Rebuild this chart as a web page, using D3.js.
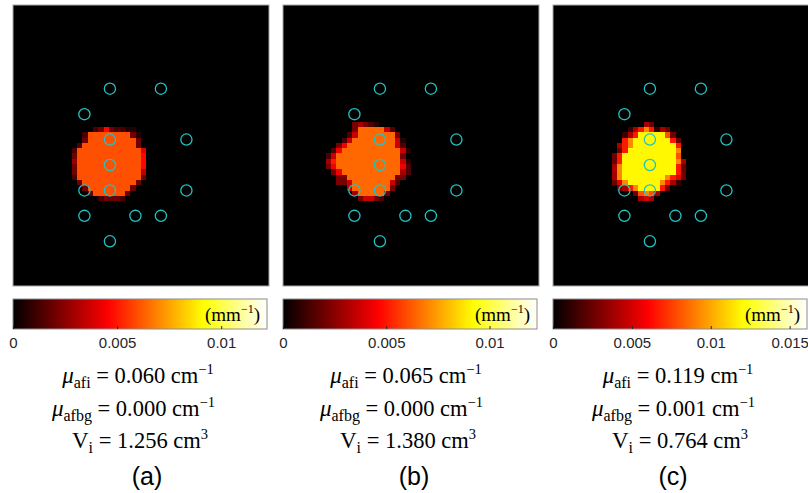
<!DOCTYPE html>
<html>
<head>
<meta charset="utf-8">
<script src="https://cdn.jsdelivr.net/npm/d3@7"></script>
<style>
  body { margin: 0; background: #fff; }
  svg { display: block; }
</style>
</head>
<body>
<svg width="808" height="493"></svg>
<script>
var svg = d3.select("svg");

// captions and the numbers printed under each map
var panelLabels = ["(a)", "(b)", "(c)"];
var muAfi = [0.060, 0.065, 0.119];   // cm^-1
var muAfbg = [0.000, 0.000, 0.001];  // cm^-1
var volumes = [1.256, 1.380, 0.764]; // cm^3

// colorbar range and ticks, mm^-1
var cbarMax = [0.0122, 0.0123, 0.0161];
var cbarTicks = [[0, 0.005, 0.01], [0, 0.005, 0.01], [0, 0.005, 0.01, 0.015]];

// optode positions on a 5 x 7 lattice, [col, row]
var optodes = [[1, 0], [3, 0], [0, 1], [1, 2], [4, 2], [1, 3],
               [0, 4], [1, 4], [4, 4], [0, 5], [2, 5], [3, 5], [1, 6]];

// reconstructed inclusion, one char per voxel: 0..9 = fraction of peak (9 = mu_afi)
var blobA = [
  "....23732211..",
  "..29999999931.",
  "..39999999993.",
  ".299999999993.",
  "29999999999996",
  "39999999999997",
  "49999999999997",
  "39999999999997",
  "39999999999995",
  "29999999999993",
  ".399999999993.",
  "..3999999993..",
  "...39999993...",
  ".....23332...."
];
var blobB = [
  ".....34321......",
  ".....39999952...",
  "....2599999993..",
  "...259999999951.",
  "..3699999999952.",
  ".269999999999951",
  "259999999999993.",
  "4799999999999951",
  "3699999999999962",
  ".369999999999942",
  "..3399999999933.",
  "..335999999952..",
  "....599999993...",
  ".....4999993....",
  "......35532....."
];
var blobC = [
  "......32......",
  "...13575132...",
  "..1359999962..",
  "..57999999952.",
  ".357999999995.",
  ".259999999997.",
  "2599999999996.",
  "25999999999973",
  "37999999999952",
  "37999999999952",
  "37999999997542",
  "2479999997531.",
  ".2357999952...",
  "....26763.....",
  ".....343......"
];
var blobs = [blobA, blobB, blobC];
var blobStart = [[11, 23], [8, 22], [11, 22]]; // voxel col,row of first char
var gridCols = 48, gridRows = 53;

// layout
var panelX = [13, 283, 553];
var imgW = 256, imgTop = 5, imgBottom = 286;
var cbTop = 299, cbH = 30, cbW = 254;
var textCx = [137, 405, 677];
var capX = [147, 414, 673];

// MATLAB "hot"
var hot = d3.scaleLinear()
  .domain([0, 3 / 8, 6 / 8, 1])
  .range(["#000000", "#ff0000", "#ffff00", "#ffffff"])
  .clamp(true);

var defs = svg.append("defs");
var grad = defs.append("linearGradient").attr("id", "hotGrad");
d3.range(0, 1.0001, 0.125).forEach(function (t) {
  grad.append("stop").attr("offset", t).attr("stop-color", hot(t));
});

var fmt = d3.format(".3f");
var serif = "'Liberation Serif', 'DejaVu Serif', serif";
var sans = "'Liberation Sans', Arial, sans-serif";

panelLabels.forEach(function (label, i) {
  var g = svg.append("g").attr("transform", "translate(" + panelX[i] + ",0)");

  var x = d3.scaleLinear().domain([0, gridCols]).range([0, imgW]);
  var y = d3.scaleLinear().domain([0, gridRows]).range([imgTop, imgBottom]);
  var color = function (v) { return hot(v / cbarMax[i]); };

  // background voxels (value 0)
  g.append("rect")
    .attr("x", x(0)).attr("y", y(0))
    .attr("width", x(gridCols) - x(0)).attr("height", y(gridRows) - y(0))
    .attr("fill", color(0));

  // voxels of the inclusion
  var cells = [];
  blobs[i].forEach(function (row, r) {
    row.split("").forEach(function (ch, c) {
      var d = +ch;
      if (ch !== "." && d > 0) {
        cells.push({ col: blobStart[i][0] + c, row: blobStart[i][1] + r, v: d / 9 * muAfi[i] / 10 });
      }
    });
  });
  g.append("g").selectAll("rect")
    .data(cells)
    .enter().append("rect")
    .attr("x", function (d) { return x(d.col); })
    .attr("y", function (d) { return y(d.row); })
    .attr("width", function (d) { return x(d.col + 1) - x(d.col); })
    .attr("height", function (d) { return y(d.row + 1) - y(d.row); })
    .attr("fill", function (d) { return color(d.v); })
    .attr("shape-rendering", "crispEdges");

  // image frame
  g.append("rect")
    .attr("x", x(0)).attr("y", y(0))
    .attr("width", x(gridCols) - x(0)).attr("height", y(gridRows) - y(0))
    .attr("fill", "none").attr("stroke", "#a8a8a8").attr("stroke-width", 1);

  // optodes
  var sx = d3.scaleLinear().domain([0, 4]).range([71.4, 173.4]);
  var sy = d3.scaleLinear().domain([0, 6]).range([88.7, 241.3]);
  g.append("g").selectAll("circle")
    .data(optodes)
    .enter().append("circle")
    .attr("cx", function (d) { return sx(d[0]); })
    .attr("cy", function (d) { return sy(d[1]); })
    .attr("r", 5.6)
    .attr("fill", "none")
    .attr("stroke", "#22c3c3")
    .attr("stroke-width", 1.3);

  // colorbar
  var cx = d3.scaleLinear().domain([0, cbarMax[i]]).range([0, cbW]);
  g.append("rect")
    .attr("x", cx(0)).attr("y", cbTop)
    .attr("width", cbW).attr("height", cbH)
    .attr("fill", "url(#hotGrad)")
    .attr("stroke", "#8c8c8c").attr("stroke-width", 1);

  var axis = g.append("g")
    .attr("transform", "translate(0," + (cbTop + cbH) + ")")
    .call(d3.axisBottom(cx)
      .tickValues(cbarTicks[i])
      .tickFormat(function (d) { return String(d); })
      .tickSize(-3)
      .tickPadding(8));
  axis.select(".domain").remove();
  axis.selectAll(".tick line").attr("stroke", "#262626");
  axis.selectAll(".tick text")
    .attr("fill", "#262626")
    .style("font-family", sans)
    .style("font-size", "15px");

  var unit = g.append("text")
    .attr("x", cbW - 7).attr("y", cbTop + 22)
    .attr("text-anchor", "end")
    .style("font-family", serif).style("font-size", "19px")
    .attr("fill", "#000");
  unit.append("tspan").text("(mm");
  unit.append("tspan").attr("dy", -8).style("font-size", "12px").text("\u22121");
  unit.append("tspan").attr("dy", 8).text(")");

  // statistics, each line centred
  var cxText = textCx[i] - panelX[i];
  var stats = [
    { sym: "\u03bc", italic: true, sub: "afi", val: fmt(muAfi[i]) + " cm", sup: "\u22121", y: 383, dx: 1 },
    { sym: "\u03bc", italic: true, sub: "afbg", val: fmt(muAfbg[i]) + " cm", sup: "\u22121", y: 415.5, dx: -3.5 },
    { sym: "V", italic: false, sub: "i", val: fmt(volumes[i]) + " cm", sup: "3", y: 447.5, dx: 3 }
  ];
  stats.forEach(function (s) {
    var t = g.append("text")
      .attr("x", cxText + s.dx).attr("y", s.y)
      .attr("text-anchor", "middle")
      .style("font-family", serif).style("font-size", "22.5px");
    t.append("tspan").style("font-style", s.italic ? "italic" : "normal")
      .style("font-size", "23px").text(s.sym);
    t.append("tspan").attr("dy", 5).style("font-size", "16px").text(s.sub);
    t.append("tspan").attr("dy", -5).text(" = " + s.val);
    t.append("tspan").attr("dy", -9).style("font-size", "14.5px").text(s.sup);
  });

  g.append("text")
    .attr("x", capX[i] - panelX[i]).attr("y", 485)
    .attr("text-anchor", "middle")
    .style("font-family", sans).style("font-size", "25px")
    .text(label);
});
</script>
</body>
</html>
